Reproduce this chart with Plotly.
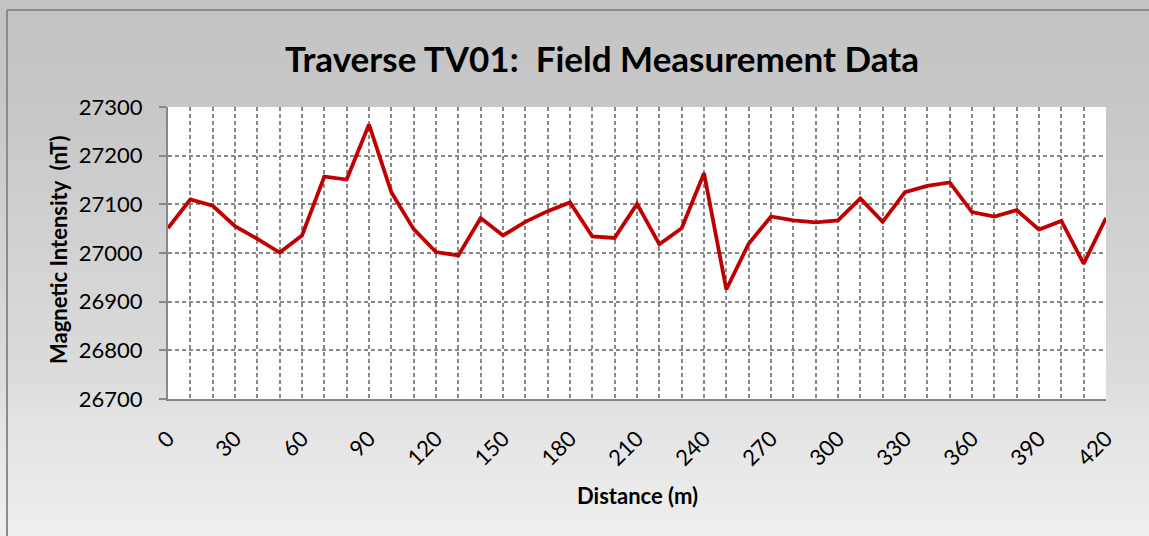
import plotly.graph_objects as go
import numpy as np

# ---- data ----
distance_m = list(range(0, 430, 10))
intensity_nT = [27051, 27110, 27097, 27055, 27029, 27001, 27036, 27157, 27151, 27264,
                27125, 27049, 27002, 26995, 27072, 27036, 27064, 27086, 27104, 27034,
                27031, 27101, 27018, 27051, 27164, 26925, 27019, 27075, 27067, 27063,
                27067, 27112, 27064, 27125, 27138, 27145, 27084, 27075, 27088, 27048,
                27066, 26978, 27072]
x_tick_vals = list(range(0, 430, 30))
y_tick_vals = [26700, 26800, 26900, 27000, 27100, 27200, 27300]

W, H = 1149, 536
L, R, T, B = 168, 1106, 107, 399  # plot-area pixel bounds


def px(xp):
    return (xp - L) / (R - L)


def py(yp):
    return (B - yp) / (B - T)


fig = go.Figure()
fig.add_trace(go.Scatter(x=distance_m, y=intensity_nT, mode="lines",
                         line=dict(color="#c00000", width=3.8), showlegend=False))

# background gradient built from thin strips
stops_y = [0, 10, 120, 380, 420, 536]
stops_v = [195, 195, 200, 220, 227, 239]
shapes = []
step = 4
for y0 in range(0, H, step):
    v = int(round(np.interp(y0 + step / 2, stops_y, stops_v)))
    c = f"rgb({v},{v},{v})"
    shapes.append(dict(type="rect", xref="paper", yref="paper", layer="below",
                       x0=px(0), x1=px(W), y0=py(y0 + step), y1=py(y0),
                       fillcolor=c, line=dict(width=0)))
# white plot area
shapes.append(dict(type="rect", xref="paper", yref="paper", layer="below",
                   x0=0, x1=1, y0=0, y1=1, fillcolor="white", line=dict(width=0)))
# outer border (left and top)
shapes.append(dict(type="line", xref="paper", yref="paper", layer="below",
                   x0=px(7), x1=px(7), y0=py(H), y1=py(10),
                   line=dict(color="#8c8c8c", width=2)))
shapes.append(dict(type="line", xref="paper", yref="paper", layer="below",
                   x0=px(7), x1=px(W), y0=py(10), y1=py(10),
                   line=dict(color="#8c8c8c", width=2)))

grid_kw = dict(gridcolor="#888888", gridwidth=1.5, griddash="4px,3px")

annotations = [
    dict(text="<b>Traverse TV01:  Field Measurement Data</b>", xref="paper", yref="paper",
         x=px(602), y=py(58), xanchor="center", yanchor="middle", showarrow=False,
         font=dict(size=35, family="Lato", color="black")),
    dict(text="<b>Distance (m)</b>", xref="paper", yref="paper",
         x=px(637), y=py(496), xanchor="center", yanchor="middle", showarrow=False,
         font=dict(size=22, family="Lato", color="black")),
    dict(text="<b>Magnetic Intensity  (nT)</b>", xref="paper", yref="paper",
         x=px(58), y=py(250), xanchor="center", yanchor="middle", showarrow=False,
         textangle=-90, font=dict(size=22, family="Lato", color="black")),
]

fig.update_layout(
    width=W, height=H,
    margin=dict(l=L, r=W - R, t=T, b=H - B),
    paper_bgcolor="#e0e0e0", plot_bgcolor="white",
    shapes=shapes, annotations=annotations,
    font=dict(family="Lato, Open Sans, sans-serif", color="black"),
    xaxis=dict(range=[0, 420], tickmode="array", tickvals=x_tick_vals,
               ticktext=[str(v) for v in x_tick_vals],
               tickangle=-45, tickfont=dict(size=22, family="Lato"),
               ticklabelstandoff=12,
               showgrid=True, **grid_kw,
               minor=dict(dtick=10, tick0=0, showgrid=True, **grid_kw),
               showline=True, linecolor="#888888", linewidth=2,
               ticks="outside", ticklen=4, tickcolor="rgba(0,0,0,0)",
               zeroline=False),
    yaxis=dict(range=[26700, 27300], tickmode="array", tickvals=y_tick_vals,
               ticktext=[str(v) for v in y_tick_vals],
               tickfont=dict(size=22, family="Lato"),
               ticklabelstandoff=12,
               showgrid=True, **grid_kw,
               showline=True, linecolor="#888888", linewidth=2,
               ticks="outside", ticklen=7, tickcolor="#888888", tickwidth=1.5,
               zeroline=False),
)

fig.write_html("out.html", config={"displayModeBar": False})
with open("out.html", "r", encoding="utf-8") as f:
    html = f.read()
html = html.replace("<head>", "<head><style>html,body{margin:0;padding:0;overflow:hidden;}</style>", 1)
with open("out.html", "w", encoding="utf-8") as f:
    f.write(html)
